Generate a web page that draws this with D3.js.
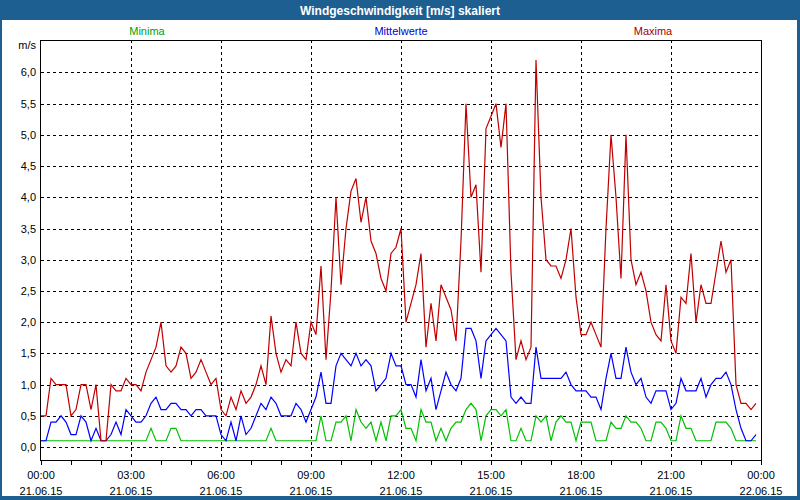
<!DOCTYPE html>
<meta charset="utf-8">
<style>
body { margin: 0; background: #fff; }
text { font-family: "Liberation Sans", Arial, sans-serif; font-size: 11px; }
.title { font-weight: bold; font-size: 12px; fill: #fff; }
.grid line { stroke: #000; stroke-dasharray: 3,3; shape-rendering: crispEdges; }
.frame { fill: none; stroke: #000; shape-rendering: crispEdges; }
.series { fill: none; stroke-width: 1.2px; }
</style>
<svg width="800" height="500"></svg>
<script src="https://d3js.org/d3.v7.min.js"></script>
<script>

// 10-minute values, 21.06.15 00:00 .. 23:50
var maxima = [0.5,0.5,1.1,1.0,1.0,1.0,0.5,0.6,1.0,1.0,0.6,1.0,0.1,0.1,1.0,0.9,0.9,1.1,1.0,1.0,
  0.9,1.2,1.4,1.6,2.0,1.3,1.2,1.3,1.6,1.5,1.1,1.2,1.4,1.2,1.0,1.1,0.6,0.5,0.8,0.6,
  0.9,0.7,0.8,1.0,1.3,1.0,2.1,1.5,1.2,1.4,1.3,2.0,1.5,1.4,2.0,1.8,2.9,1.4,2.5,4.0,
  2.6,3.5,4.1,4.3,3.6,4.0,3.3,3.1,2.7,2.5,3.1,3.2,3.5,2.0,2.3,2.6,3.1,1.6,2.3,1.7,
  2.6,2.4,2.2,1.7,3.3,5.5,4.0,4.2,2.8,5.1,5.3,5.5,4.8,5.5,2.8,1.4,1.7,1.4,1.6,6.2,
  4.0,3.0,2.9,2.9,2.7,3.0,3.5,2.4,1.8,1.8,2.0,1.8,1.6,3.5,5.0,4.0,2.7,5.0,3.0,2.6,
  2.8,2.5,2.0,1.8,1.7,2.6,1.7,1.5,2.4,2.3,3.1,2.0,2.6,2.3,2.3,2.8,3.3,2.8,3.0,1.0,
  0.7,0.7,0.6,0.7];

var mittel = [0.1,0.1,0.4,0.4,0.5,0.4,0.2,0.2,0.5,0.4,0.1,0.3,0.1,0.1,0.2,0.4,0.2,0.6,0.5,0.4,
  0.4,0.5,0.7,0.8,0.6,0.6,0.7,0.7,0.6,0.6,0.5,0.6,0.6,0.5,0.5,0.5,0.2,0.1,0.4,0.1,
  0.5,0.2,0.3,0.5,0.7,0.6,0.8,0.7,0.5,0.5,0.5,0.7,0.6,0.4,0.6,0.8,1.2,0.7,0.7,1.3,
  1.5,1.4,1.3,1.5,1.3,1.4,1.3,0.9,1.0,1.1,1.5,1.3,1.3,1.0,1.0,0.8,1.4,0.9,1.1,0.6,
  0.9,1.2,1.0,0.9,1.1,1.9,1.9,1.7,1.1,1.7,1.8,1.9,1.8,1.7,0.8,0.7,0.8,0.7,0.7,1.6,
  1.1,1.1,1.1,1.1,1.1,1.2,1.0,0.9,0.9,0.9,0.8,0.8,0.6,1.1,1.5,1.1,1.1,1.6,1.2,1.0,
  1.1,0.8,0.7,0.9,0.9,0.9,0.6,0.7,1.1,0.9,0.9,0.9,1.1,0.8,1.0,1.1,1.1,1.2,1.0,0.6,
  0.3,0.1,0.1,0.2];

var minima = [0.1,0.1,0.1,0.1,0.1,0.1,0.1,0.1,0.1,0.1,0.1,0.1,0.1,0.1,0.1,0.1,0.1,0.1,0.1,0.1,
  0.1,0.1,0.3,0.1,0.1,0.1,0.3,0.3,0.1,0.1,0.1,0.1,0.1,0.1,0.1,0.1,0.1,0.1,0.1,0.1,
  0.1,0.1,0.1,0.1,0.1,0.1,0.3,0.1,0.1,0.1,0.1,0.1,0.1,0.1,0.1,0.1,0.5,0.1,0.1,0.4,
  0.4,0.5,0.1,0.6,0.4,0.3,0.4,0.1,0.4,0.1,0.5,0.5,0.6,0.3,0.3,0.1,0.6,0.4,0.4,0.1,
  0.3,0.1,0.3,0.4,0.4,0.6,0.7,0.6,0.1,0.5,0.6,0.6,0.5,0.6,0.1,0.1,0.3,0.1,0.1,0.5,
  0.4,0.5,0.1,0.4,0.5,0.4,0.4,0.1,0.4,0.4,0.4,0.1,0.1,0.1,0.4,0.3,0.3,0.5,0.4,0.4,
  0.3,0.1,0.1,0.4,0.4,0.3,0.1,0.1,0.5,0.3,0.3,0.1,0.1,0.1,0.1,0.4,0.4,0.4,0.3,0.1,
  0.1,0.1,0.1,0.1];

var yTicks = [0, 0.5, 1, 1.5, 2, 2.5, 3, 3.5, 4, 4.5, 5, 5.5, 6];
var legend = [
  {name: "Minima", color: "#00a000", x: 147},
  {name: "Mittelwerte", color: "#0000cc", x: 401},
  {name: "Maxima", color: "#a00000", x: 653}
];

var startTime = new Date(2015, 5, 21, 0, 0),
    endTime = new Date(2015, 5, 22, 0, 0);

var svg = d3.select("svg");

// window frame
svg.append("rect").attr("width", 800).attr("height", 500).attr("fill", "#1e5f92");
svg.append("rect").attr("x", 2).attr("y", 20).attr("width", 795).attr("height", 476).attr("fill", "#fff");
svg.append("text").attr("class", "title")
    .attr("x", 400).attr("y", 15)
    .attr("text-anchor", "middle")
    .text("Windgeschwindigkeit [m/s] skaliert");

var x = d3.scaleTime().domain([startTime, endTime]).range([41, 761]);
var y = d3.scaleLinear().domain([-0.224, 6.52]).range([461, 40]);

function t(i) { return d3.timeMinute.offset(startTime, i * 10); }

// grid
var grid = svg.append("g").attr("class", "grid");
grid.selectAll(".h").data(yTicks).enter().append("line")
    .attr("x1", 41).attr("x2", 761)
    .attr("y1", function(d) { return Math.round(y(d)) + 0.5; })
    .attr("y2", function(d) { return Math.round(y(d)) + 0.5; });

var majors = d3.timeHour.every(3).range(startTime, d3.timeMinute.offset(endTime, 1));
grid.selectAll(".v").data(majors.slice(1, -1)).enter().append("line")
    .attr("y1", 40).attr("y2", 461)
    .attr("x1", function(d) { return Math.round(x(d)) + 0.5; })
    .attr("x2", function(d) { return Math.round(x(d)) + 0.5; });

// y labels
svg.append("g").selectAll("text").data(yTicks).enter().append("text")
    .attr("x", 36).attr("y", function(d) { return y(d) + 4; })
    .attr("text-anchor", "end")
    .text(function(d) { return d3.format(".1f")(d).replace(".", ","); });
svg.append("text").attr("x", 36).attr("y", 49).attr("text-anchor", "end").text("m/s");

// x axis ticks
var hours = d3.timeHour.every(1).range(startTime, d3.timeMinute.offset(endTime, 1));
svg.append("g").selectAll("line").data(hours).enter().append("line")
    .attr("x1", function(d) { return Math.round(x(d)) + 0.5; })
    .attr("x2", function(d) { return Math.round(x(d)) + 0.5; })
    .attr("y1", 461).attr("y2", 465)
    .attr("stroke", "#000").attr("shape-rendering", "crispEdges");

var xl = svg.append("g").selectAll("g").data(majors).enter().append("g")
    .attr("transform", function(d) { return "translate(" + x(d) + ",0)"; });
xl.append("text").attr("y", 479).attr("text-anchor", "middle")
    .text(d3.timeFormat("%H:%M"));
xl.append("text").attr("y", 495).attr("text-anchor", "middle")
    .text(d3.timeFormat("%d.%m.%y"));

// series
var line = d3.line()
    .x(function(d, i) { return x(t(i)); })
    .y(function(d) { return y(d); });

[[minima, "#00c000"], [mittel, "#0000ff"], [maxima, "#c00000"]].forEach(function(s) {
  svg.append("path").attr("class", "series")
      .attr("stroke", s[1])
      .attr("d", line(s[0]));
});

svg.append("rect").attr("class", "frame")
    .attr("x", 40.5).attr("y", 40.5).attr("width", 721).attr("height", 420);

// legend
svg.append("g").selectAll("text").data(legend).enter().append("text")
    .attr("x", function(d) { return d.x; }).attr("y", 35)
    .attr("text-anchor", "middle")
    .attr("fill", function(d) { return d.color; })
    .text(function(d) { return d.name; });

</script>
